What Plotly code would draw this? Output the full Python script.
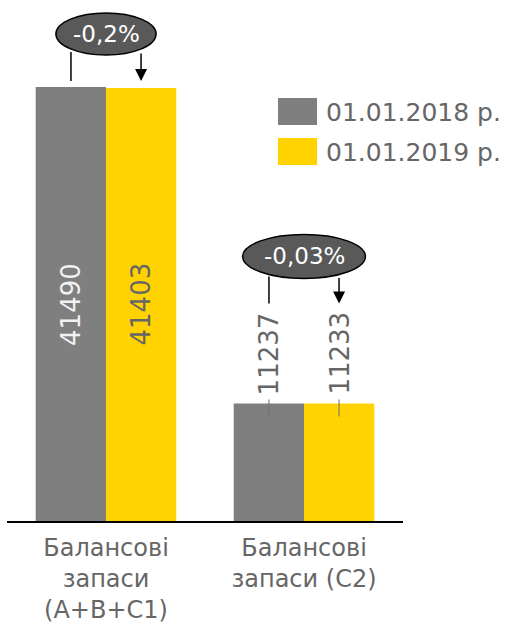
import plotly.graph_objects as go

categories = ["Балансові<br>запаси<br>(А+В+С1)", "Балансові<br>запаси (С2)"]
series_names = ["01.01.2018 р.", "01.01.2019 р."]
values_2018 = [41490, 11237]
values_2019 = [41403, 11233]
change_labels = ["-0,2%", "-0,03%"]

GREY = "#7f7f7f"
YELLOW = "#ffd200"
TXT = "#666666"
FONT = "DejaVu Sans"

# plot area: x 7..403 px, y 10..521 px
W, H = 396, 511
YMAX = 48850
PX = YMAX / H          # data units per pixel
OFF = 0.177            # half-distance between grouped bar centres (category units)


def px_x(p):
    return (p - 7) / W


def px_y(p):
    return (521 - p) / H


fig = go.Figure()
fig.add_trace(go.Bar(x=categories, y=values_2018, name=series_names[0],
                     marker=dict(color=GREY, line=dict(width=0))))
fig.add_trace(go.Bar(x=categories, y=values_2019, name=series_names[1],
                     marker=dict(color=YELLOW, line=dict(width=0))))

shapes = []
annotations = []

# value labels
for i, (a, b) in enumerate(zip(values_2018, values_2019)):
    inside = i == 0
    for v, dx, col in [(a, -OFF, "#f2f2f2" if inside else TXT), (b, OFF, TXT)]:
        y = v / 2 if inside else v + 50 * PX
        annotations.append(dict(x=i + dx, y=y, xref="x", yref="y", text=str(v),
                                textangle=-90, showarrow=False,
                                font=dict(family=FONT, size=26, color=col)))
        if not inside:
            shapes.append(dict(type="line", xref="x", yref="y", x0=i + dx, x1=i + dx,
                               y0=v - 13 * PX, y1=v + 4 * PX,
                               line=dict(color="#707070", width=1)))

# change ellipses with connectors
geo = [  # (ellipse half width, bottom px above bar, top px above bar, line start, line end)
    (0.253, 32, 74, 35, 6),
    (0.31, 125, 169, 127, 100),
]
for i, (a, lab) in enumerate(zip(values_2018, change_labels)):
    hw, lo, hi, ls, le = geo[i]
    base = a
    shapes.append(dict(type="circle", xref="x", yref="y",
                       x0=i - hw, x1=i + hw, y0=base + lo * PX, y1=base + hi * PX,
                       fillcolor="#595959", line=dict(color="#000000", width=1.5),
                       layer="above"))
    annotations.append(dict(x=i, y=base + (lo + hi) / 2 * PX, xref="x", yref="y",
                            text=lab, showarrow=False,
                            font=dict(family=FONT, size=23, color="#ffffff")))
    shapes.append(dict(type="line", xref="x", yref="y", x0=i - OFF, x1=i - OFF,
                       y0=base + ls * PX, y1=base + le * PX,
                       line=dict(color="#000000", width=1.5)))
    annotations.append(dict(x=i + OFF, y=base + le * PX, xref="x", yref="y",
                            ax=i + OFF, ay=base + ls * PX, axref="x", ayref="y",
                            text="", showarrow=True, arrowhead=2, arrowsize=1.6,
                            arrowwidth=1.5, arrowcolor="#000000"))

# legend drawn by hand (large swatches)
for k, (name, col) in enumerate(zip(series_names, [GREY, YELLOW])):
    top = 98 + 40 * k
    shapes.append(dict(type="rect", xref="paper", yref="paper",
                       x0=px_x(278), x1=px_x(317), y0=px_y(top + 27), y1=px_y(top),
                       fillcolor=col, line=dict(width=0)))
    annotations.append(dict(x=px_x(324), y=px_y(top + 14), xref="paper", yref="paper",
                            text=name, showarrow=False, xanchor="left", yanchor="middle",
                            font=dict(family=FONT, size=25, color=TXT)))

fig.update_layout(
    width=508, height=625,
    margin=dict(l=7, r=105, t=10, b=104),
    paper_bgcolor="white", plot_bgcolor="white",
    barmode="group", bargap=0.29, bargroupgap=0,
    showlegend=False,
    shapes=shapes, annotations=annotations,
    font=dict(family=FONT, color=TXT),
    xaxis=dict(showline=True, linecolor="#000000", linewidth=2, ticks="",
               ticklabelstandoff=4, automargin=False,
               tickfont=dict(family=FONT, size=24, color=TXT), showgrid=False),
    yaxis=dict(range=[0, YMAX], visible=False, showgrid=False),
)

fig.write_html("out.html", config={"displayModeBar": False},
               post_script="document.body.style.margin='0';")
